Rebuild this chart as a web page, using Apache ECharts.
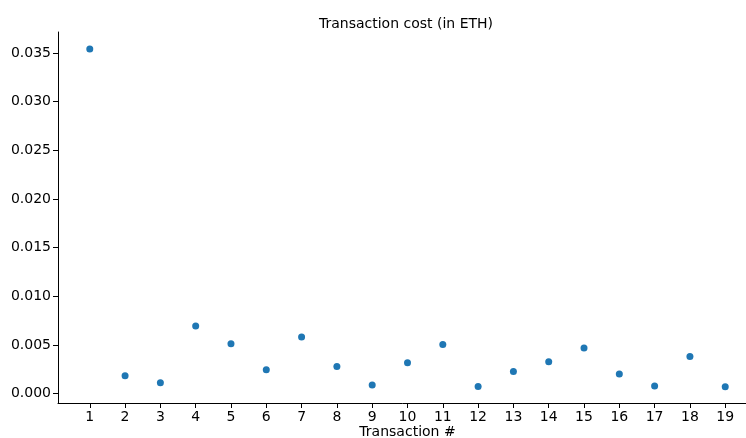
<!DOCTYPE html>
<html><head><meta charset="utf-8">
<script src="https://cdn.jsdelivr.net/npm/echarts@6/dist/echarts.min.js"></script>
<style>html,body{margin:0;padding:0;background:#fff}#c{width:746px;height:438px}</style>
</head><body><div id="c"></div>
<script>
const transactions = [1,2,3,4,5,6,7,8,9,10,11,12,13,14,15,16,17,18,19];
const costs = [0.0354,0.00185,0.00113,0.00695,0.00513,0.00246,0.00582,0.0028,0.00089,0.00318,0.00506,0.00075,0.00229,0.00329,0.00469,0.00202,0.00079,0.00383,0.00072];
const yTicks = [0,0.005,0.010,0.015,0.020,0.025,0.030,0.035];
const xTicks = transactions;
const font = 'DejaVu Sans';
const chart = echarts.init(document.getElementById('c'));
chart.setOption({
  animation:false,
  backgroundColor:'#ffffff',
  title:{text:'Transaction cost (in ETH)',left:401,top:12,textAlign:'center',
    textStyle:{fontFamily:font,fontSize:14,fontWeight:'normal',color:'#000'}},
  grid:{left:58,top:32,width:699,bottom:35,outerBoundsMode:'none'},
  xAxis:{type:'value',min:0.1,max:19.9,
    name:'Transaction #',nameLocation:'middle',nameGap:22,nameMoveOverlap:false,
    nameTextStyle:{fontFamily:font,fontSize:14,color:'#000'},
    axisLine:{onZero:false,lineStyle:{color:'#000',width:1}},
    axisTick:{show:true,length:5,customValues:xTicks,lineStyle:{color:'#000'}},
    axisLabel:{customValues:xTicks,margin:7,fontFamily:font,fontSize:14,color:'#000'},
    splitLine:{show:false}},
  yAxis:{type:'value',min:-0.00095,max:0.03715,
    axisLine:{show:true,onZero:false,lineStyle:{color:'#000',width:1}},
    axisTick:{show:true,length:5,customValues:yTicks,lineStyle:{color:'#000'}},
    axisLabel:{customValues:yTicks,margin:7,fontFamily:font,fontSize:14,color:'#000',
      formatter:v=>v.toFixed(3)},
    splitLine:{show:false}},
  series:[{type:'scatter',symbolSize:7,itemStyle:{color:'#1f77b4',opacity:1},
    data:transactions.map((t,i)=>[t,costs[i]])}]
});
</script></body></html>
